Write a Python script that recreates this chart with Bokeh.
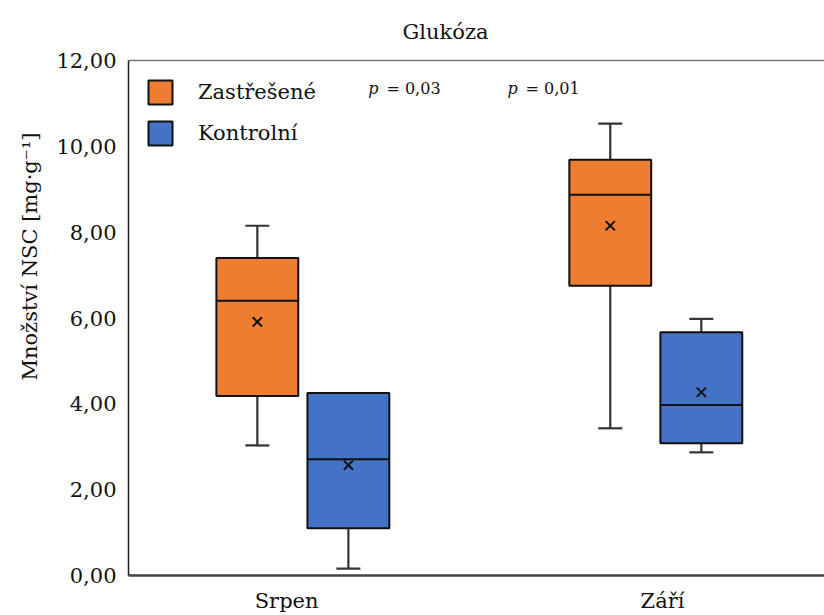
from bokeh.plotting import figure
from bokeh.models import (Range1d, FixedTicker, LinearAxis, Label, Legend, LegendItem,
                          ColumnDataSource, Title)
from bokeh.embed import file_html
from bokeh.resources import INLINE

# ---- data ----
months = ["Srpen", "Září"]
series_names = ["Zastřešené", "Kontrolní"]
zast_low = [3.03, 3.43]
zast_q1 = [4.18, 6.75]
zast_med = [6.40, 8.87]
zast_q3 = [7.40, 9.69]
zast_high = [8.15, 10.53]
zast_mean = [5.91, 8.15]
kont_low = [0.16, 2.87]
kont_q1 = [1.10, 3.08]
kont_med = [2.71, 3.97]
kont_q3 = [4.25, 5.67]
kont_high = [4.25, 5.98]
kont_mean = [2.57, 4.27]
p_values = ["= 0,03", "= 0,01"]
y_ticks = [0, 2, 4, 6, 8, 10, 12]
y_tick_labels = ["0,00", "2,00", "4,00", "6,00", "8,00", "10,00", "12,00"]
title_text = "Glukóza"
y_label_text = "Množství NSC [mg·g⁻¹]"

ORANGE = "#ED7D31"
BLUE = "#4472C4"
FONT = "DejaVu Serif"

p = figure(width=824, height=615, output_backend="svg", toolbar_location=None,
           x_range=Range1d(0.507, 2.479), y_range=Range1d(0, 12),
           min_border_left=128, min_border_right=0, min_border_top=60, min_border_bottom=39)
p.outline_line_color = None
p.xgrid.visible = False
p.ygrid.visible = False
p.background_fill_color = "white"
p.border_fill_color = "white"

# title (above) and y label (left) as titles so they sit outside the frame
p.title = Title(text=title_text, align="left", offset=274, text_font=FONT,
                text_font_size="21px", text_font_style="normal", text_color="#111111",
                standoff=33)
p.add_layout(Title(text=y_label_text, align="right", offset=72, text_font=FONT,
                   text_font_size="21px", text_font_style="normal", text_color="#111111",
                   standoff=24),
             "left")

# axes
p.yaxis.ticker = FixedTicker(ticks=y_ticks)
p.yaxis.major_label_overrides = {t: l for t, l in zip(y_ticks, y_tick_labels)}
p.yaxis.major_tick_line_color = None
p.yaxis.minor_tick_line_color = None
p.yaxis.axis_line_color = "#222222"
p.yaxis.axis_line_width = 1.5
p.yaxis.major_label_text_font = FONT
p.yaxis.major_label_text_font_size = "21px"
p.yaxis.major_label_text_color = "#111111"
p.yaxis.major_label_standoff = 6

xt = [0.955, 2.02]
p.xaxis.ticker = FixedTicker(ticks=xt)
p.xaxis.major_label_overrides = {t: m for t, m in zip(xt, months)}
p.xaxis.major_tick_line_color = None
p.xaxis.minor_tick_line_color = None
p.xaxis.axis_line_color = "#444444"
p.xaxis.axis_line_width = 2.5
p.xaxis.major_label_text_font = FONT
p.xaxis.major_label_text_font_size = "21px"
p.xaxis.major_label_text_color = "#111111"
p.xaxis.major_label_standoff = 7

top_axis = LinearAxis(ticker=FixedTicker(ticks=[]), major_tick_line_color=None,
                      minor_tick_line_color=None, axis_line_color="#777777",
                      axis_line_width=1.5, major_label_standoff=0)
p.add_layout(top_axis, "above")

# boxes
off = [-0.128, 0.13]
bw = 0.232
cap = 0.068
series = [
    (zast_low, zast_q1, zast_med, zast_q3, zast_high, zast_mean, ORANGE),
    (kont_low, kont_q1, kont_med, kont_q3, kont_high, kont_mean, BLUE),
]
items = []
for si, (lo, q1, med, q3, hi, mn, col) in enumerate(series):
    xs = [i + 1 + off[si] for i in range(len(months))]
    src = ColumnDataSource(dict(x=xs, lo=lo, q1=q1, med=med, q3=q3, hi=hi, mn=mn,
                                xl=[x - cap / 2 for x in xs], xr=[x + cap / 2 for x in xs],
                                bl=[x - bw / 2 for x in xs], br=[x + bw / 2 for x in xs]))
    p.segment(x0="x", y0="q3", x1="x", y1="hi", source=src, line_color="#333333", line_width=2.2)
    p.segment(x0="x", y0="q1", x1="x", y1="lo", source=src, line_color="#333333", line_width=2.2)
    p.segment(x0="xl", y0="hi", x1="xr", y1="hi", source=src, line_color="#333333", line_width=2.2)
    p.segment(x0="xl", y0="lo", x1="xr", y1="lo", source=src, line_color="#333333", line_width=2.2)
    r = p.vbar(x="x", width=bw, top="q3", bottom="q1", source=src, fill_color=col,
               line_color="#111111", line_width=2)
    p.segment(x0="bl", y0="med", x1="br", y1="med", source=src, line_color="#111111", line_width=2)
    p.scatter(x="x", y="mn", source=src, marker="x", size=13, line_color="#111111", line_width=2)
    items.append(LegendItem(label=series_names[si], renderers=[r]))

legend = Legend(items=items, location="top_left", margin=17, padding=0,
                border_line_color=None, background_fill_alpha=0,
                glyph_width=30, glyph_height=30, label_height=30, spacing=11,
                label_standoff=23, label_text_font=FONT, label_text_font_size="21px",
                label_text_color="#111111")
p.add_layout(legend)

# p-values
p_x = [1.201, 1.595]
for px, pv in zip(p_x, p_values):
    p.add_layout(Label(x=px, y=11.35, text="p", text_font=FONT, text_font_style="italic",
                       text_font_size="16px", text_align="center", text_baseline="middle",
                       text_color="#111111"))
    p.add_layout(Label(x=px, y=11.35, text=pv, text_font=FONT, text_font_size="16px",
                       text_align="left", text_baseline="middle", x_offset=13,
                       text_color="#111111"))

open("out.html", "w").write(file_html(p, INLINE))
